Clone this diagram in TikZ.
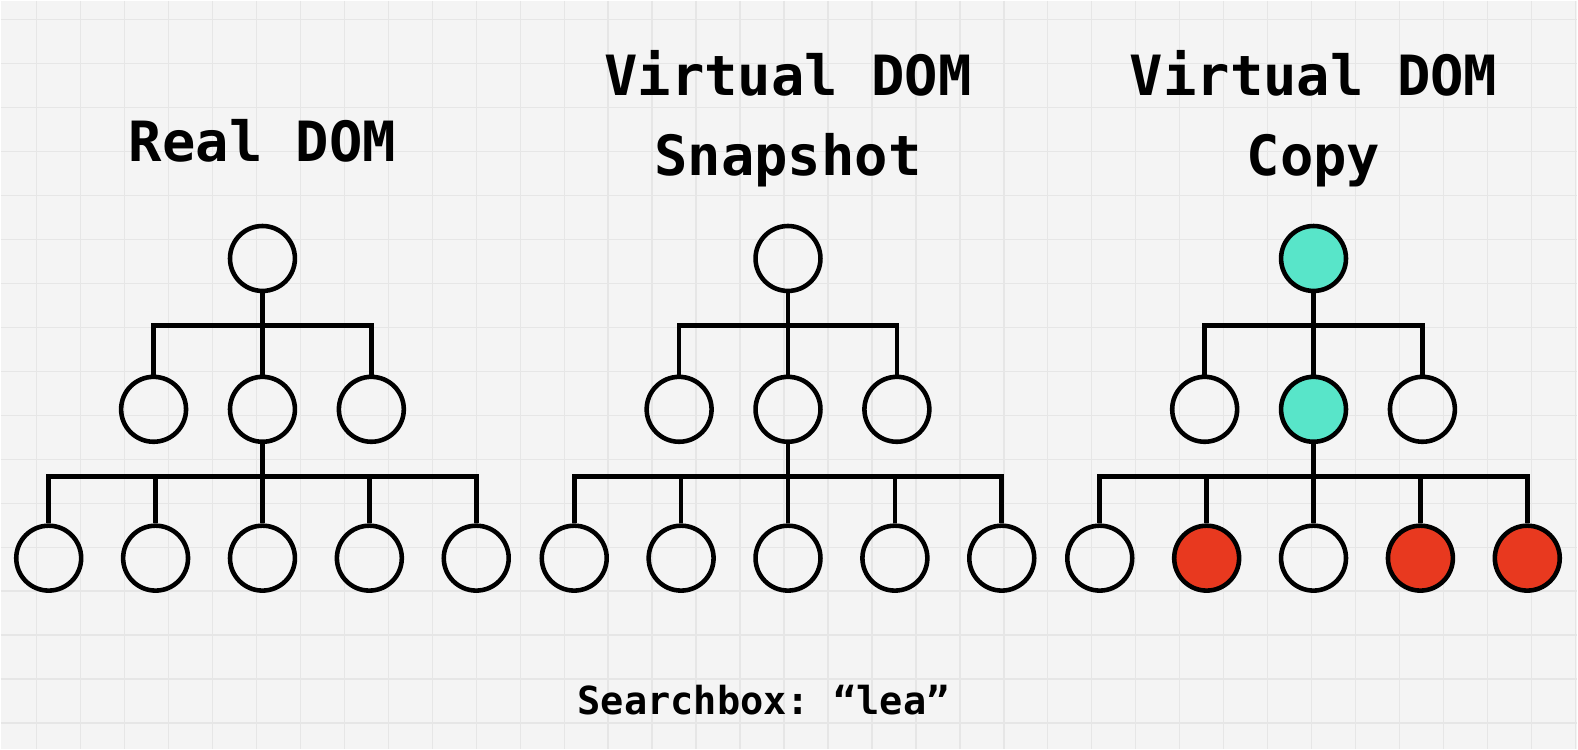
\documentclass[tikz,border=0pt]{standalone}
\usepackage{fontspec}
\setmonofont{DejaVu Sans Mono}
\usetikzlibrary{positioning}
\definecolor{gridbg}{HTML}{F4F4F4}
\definecolor{gridln}{HTML}{E6E6E6}
\definecolor{same}{HTML}{58E5C9}
\definecolor{changed}{HTML}{E8391F}
\begin{document}
\begin{tikzpicture}[x=0.02cm,y=-0.02cm,node distance=2.14cm,on grid,every node/.append style={align=center},
  vnode/.style={draw, circle, line width=2.6pt, minimum size=1.3cm, inner sep=0pt},
  link/.style={line width=2.7pt},
  heading/.style={anchor=base, font=\ttfamily\bfseries\fontsize{31.6}{38}\selectfont},
  caption/.style={anchor=base, font=\ttfamily\bfseries\fontsize{22}{26}\selectfont}]
        % paper
        \fill[gridbg] (0,0) rectangle (1578,749);
        \foreach \gx in {36,80,...,1578} \draw[gridln, line width=0.8pt] (\gx,0) -- (\gx,749);
        \foreach \gy in {19,63,...,749} \draw[gridln, line width=0.8pt] (0,\gy) -- (1578,\gy);
        \useasboundingbox (0,0) rectangle (1578,749);
        % real DOM
        \node [heading] (realtitle) at (262,161) {Real DOM};
        \node [vnode] (R) at (262,258) {};
        \node [vnode, below=3.02cm of R] (Rb) {};
        \node [vnode, left=2.18cm of Rb] (Ra) {};
        \node [vnode, right=2.18cm of Rb] (Rc) {};
        \node [vnode, below=2.98cm of Rb] (R3) {};
        \node [vnode, left=of R3] (R2) {};
        \node [vnode, left=of R2] (R1) {};
        \node [vnode, right=of R3] (R4) {};
        \node [vnode, right=of R4] (R5) {};
        \coordinate [below=1.34cm of R] (Rj);
        \coordinate [below=1.34cm of Rb] (Rk);
        \draw[link] (R) -- (Rb) (Ra) |- (Rj) -| (Rc);
        \draw[link] (Rb) -- (R3) (R1) |- (Rk) -| (R5) (R2) -- (R2 |- Rk) (R4) -- (R4 |- Rk);
        % virtual DOM snapshot
        \node [heading] (snaptitle) at (788,94.7) {Virtual DOM};
        \node [heading] (snapsub) at (788,174.7) {Snapshot};
        \node [vnode] (S) at (788,258) {};
        \node [vnode, below=3.02cm of S] (Sb) {};
        \node [vnode, left=2.18cm of Sb] (Sa) {};
        \node [vnode, right=2.18cm of Sb] (Sc) {};
        \node [vnode, below=2.98cm of Sb] (S3) {};
        \node [vnode, left=of S3] (S2) {};
        \node [vnode, left=of S2] (S1) {};
        \node [vnode, right=of S3] (S4) {};
        \node [vnode, right=of S4] (S5) {};
        \coordinate [below=1.34cm of S] (Sj);
        \coordinate [below=1.34cm of Sb] (Sk);
        \draw[link] (S) -- (Sb) (Sa) |- (Sj) -| (Sc);
        \draw[link] (Sb) -- (S3) (S1) |- (Sk) -| (S5) (S2) -- (S2 |- Sk) (S4) -- (S4 |- Sk);
        % virtual DOM copy
        \node [heading] (copytitle) at (1314,94.7) {Virtual DOM};
        \node [heading] (copysub) at (1314,174.7) {Copy};
        \node [vnode, fill=same] (C) at (1314,258) {};
        \node [vnode, fill=same, below=3.02cm of C] (Cb) {};
        \node [vnode, left=2.18cm of Cb] (Ca) {};
        \node [vnode, right=2.18cm of Cb] (Cc) {};
        \node [vnode, below=2.98cm of Cb] (C3) {};
        \node [vnode, fill=changed, left=of C3] (C2) {};
        \node [vnode, left=of C2] (C1) {};
        \node [vnode, fill=changed, right=of C3] (C4) {};
        \node [vnode, fill=changed, right=of C4] (C5) {};
        \coordinate [below=1.34cm of C] (Cj);
        \coordinate [below=1.34cm of Cb] (Ck);
        \draw[link] (C) -- (Cb) (Ca) |- (Cj) -| (Cc);
        \draw[link] (Cb) -- (C3) (C1) |- (Ck) -| (C5) (C2) -- (C2 |- Ck) (C4) -- (C4 |- Ck);
        \node [caption] (search) at (763.5,714) {Searchbox: “lea”};
    \end{tikzpicture}
\end{document}
